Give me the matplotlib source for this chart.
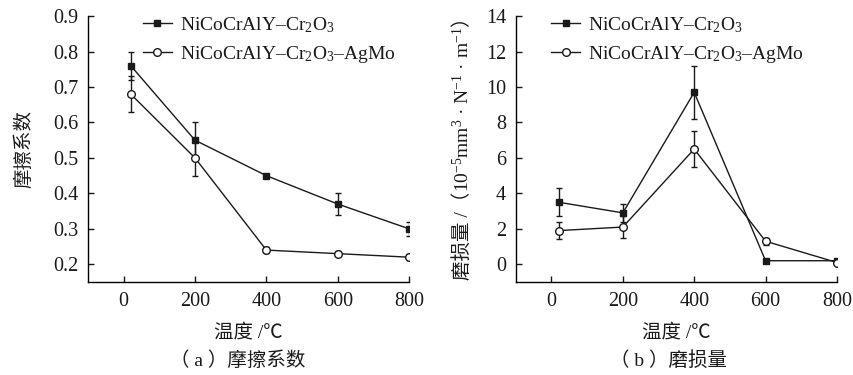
import matplotlib
matplotlib.use("Agg")
import matplotlib.pyplot as plt
from matplotlib.lines import Line2D

plt.rcParams["font.family"] = ["Liberation Serif", "Noto Sans CJK SC",
                               "DejaVu Serif"]
plt.rcParams["mathtext.fontset"] = "custom"
plt.rcParams["mathtext.rm"] = "Liberation Serif"
plt.rcParams["mathtext.it"] = "Liberation Serif:italic"
plt.rcParams["font.size"] = 14

# data
temps = [20, 200, 400, 600, 800]
labels = ["NiCoCrAlY–Cr$_2$O$_3$", "NiCoCrAlY–Cr$_2$O$_3$–AgMo"]

cof_cr2o3 = [0.76, 0.55, 0.45, 0.37, 0.30]
cof_cr2o3_err = [0.04, 0.05, 0.005, 0.03, 0.02]
cof_agmo = [0.68, 0.50, 0.24, 0.23, 0.22]
cof_agmo_err = [0.05, 0.05, 0.008, 0.008, 0.008]

wear_cr2o3 = [3.5, 2.9, 9.7, 0.2, 0.2]
wear_cr2o3_err = [0.8, 0.5, 1.5, 0.05, 0.05]
wear_agmo = [1.9, 2.1, 6.5, 1.3, 0.1]
wear_agmo_err = [0.5, 0.6, 1.0, 0.2, 0.05]

ink = "#1a1a1a"

fig = plt.figure(figsize=(8.54, 3.75), dpi=100)
ax1 = fig.add_axes([0.103, 0.248, 0.376, 0.709])
ax2 = fig.add_axes([0.604, 0.248, 0.376, 0.709])


def draw(ax, y1, e1, y2, e2, legx):
    kw = dict(color=ink, lw=1.0, capsize=2.5, elinewidth=1.0, capthick=1.0)
    ax.errorbar(temps, y1, yerr=e1, marker="s", ms=5, mfc=ink, mec=ink, **kw)
    ax.errorbar(temps, y2, yerr=e2, marker="o", ms=5.5, mfc="white",
                mec=ink, mew=1.0, **kw)
    ax.set_xlim(-100, 800)
    ax.set_xticks([0, 200, 400, 600, 800])
    for s in ["top", "right"]:
        ax.spines[s].set_visible(False)
    ax.spines["left"].set_linewidth(1.0)
    ax.spines["bottom"].set_linewidth(1.0)
    ax.tick_params(direction="in", length=4, width=1.0, labelsize=14.5,
                   color=ink, labelcolor=ink)
    ax.tick_params(axis="x", pad=7)
    ax.tick_params(axis="y", pad=7)
    ax.set_xlabel("温度 /℃", fontsize=14, labelpad=9, color=ink)
    handles = [
        Line2D([], [], color=ink, lw=1.0, marker="s", ms=5, mfc=ink, mec=ink),
        Line2D([], [], color=ink, lw=1.0, marker="o", ms=5.5, mfc="white",
               mec=ink),
    ]
    leg = ax.legend(handles, labels, loc="upper left",
                    bbox_to_anchor=(legx, 1.04), frameon=False, fontsize=14,
                    handlelength=1.5, handletextpad=0.4, labelspacing=0.45,
                    borderpad=0)
    for t in leg.get_texts():
        t.set_color(ink)


draw(ax1, cof_cr2o3, cof_cr2o3_err, cof_agmo, cof_agmo_err, 0.14)
ax1.set_ylim(0.15, 0.9)
ax1.set_yticks([0.2, 0.3, 0.4, 0.5, 0.6, 0.7, 0.8, 0.9])
ax1.set_ylabel("摩擦系数", fontsize=14, labelpad=14, color=ink)

draw(ax2, wear_cr2o3, wear_cr2o3_err, wear_agmo, wear_agmo_err, 0.08)
ax2.set_ylim(-1, 14)
ax2.set_yticks([0, 2, 4, 6, 8, 10, 12, 14])

# rotated y label of panel b, built from pieces so CJK and mathtext mix
pieces = ["磨损量 /（", r"10$^{-5}$mm$^{3}$ · N$^{-1}$ · m$^{-1}$", "）"]
renderer = fig.canvas.get_renderer()
texts = [fig.text(0, 0, p, rotation=90, fontsize=14, color=ink,
                  ha="center", va="bottom") for p in pieces]
heights = [t.get_window_extent(renderer).height for t in texts]
W, H = fig.bbox.width, fig.bbox.height
xc, yc = 462, 375 - 144
y = yc - sum(heights) / 2
for t, h in zip(texts, heights):
    t.set_position((xc / W, y / H))
    y += h

fig.text(0.278, 0.025, "（ a ）摩擦系数", ha="center", fontsize=14, color=ink)
fig.text(0.783, 0.025, "（ b ）磨损量", ha="center", fontsize=14, color=ink)

fig.savefig("out.png", dpi=100)
